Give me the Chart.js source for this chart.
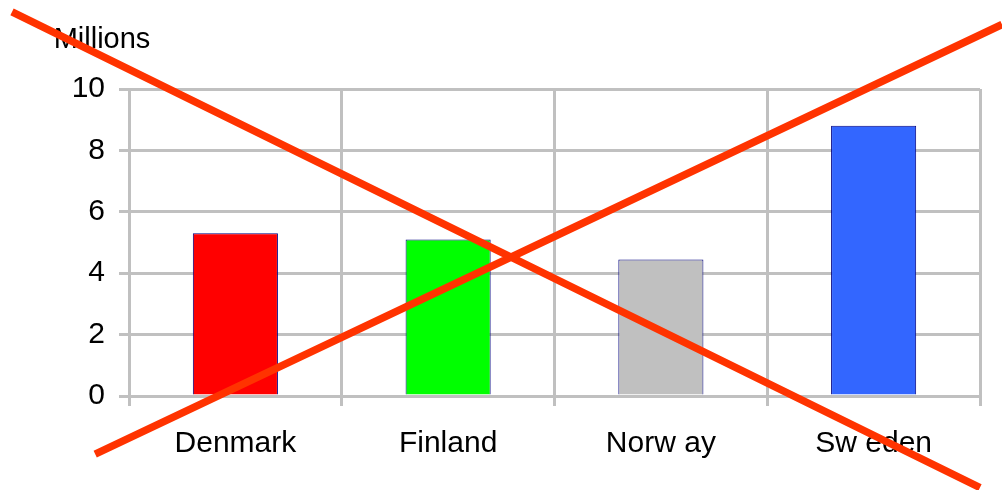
<!DOCTYPE html>
<html>
<head>
<meta charset="utf-8">
<script src="https://cdn.jsdelivr.net/npm/chart.js@4"></script>
<style>
  html, body { margin: 0; padding: 0; background: #fff; }
  #wrap { width: 1002px; height: 490px; position: relative; }
</style>
</head>
<body>
<div id="wrap"><canvas id="popChart"></canvas></div>
<script>
const countries = ['Denmark', 'Finland', 'Norw ay', 'Sw eden'];
const population = [5.3, 5.1, 4.45, 8.8];
const barColors = ['#ff0000', '#00ff00', '#c0c0c0', '#3366ff'];
const yTicks = [0, 2, 4, 6, 8, 10];
const unitLabel = 'Millions';

// "Millions" label over the y axis, and the big red cross
const extras = {
  id: 'extras',
  afterDraw(chart) {
    const c = chart.ctx;
    const area = chart.chartArea;
    c.save();
    c.fillStyle = '#000';
    c.font = '29px "Liberation Sans", Arial, sans-serif';
    c.textAlign = 'center';
    c.textBaseline = 'middle';
    c.fillText(unitLabel, area.left - 27, 40);

    const w = chart.width, h = chart.height;
    c.strokeStyle = '#ff3300';
    c.lineWidth = 7.5;
    c.lineCap = 'butt';
    c.beginPath();
    c.moveTo(w * 0.012, h * 0.024);
    c.lineTo(w * 0.978, h * 0.995);
    c.moveTo(w * 0.095, h * 0.927);
    c.lineTo(w * 1.0, h * 0.05);
    c.stroke();
    c.restore();
  }
};

const ctx = document.getElementById('popChart').getContext('2d');
new Chart(ctx, {
  type: 'bar',
  data: {
    labels: countries,
    datasets: [{
      data: population,
      backgroundColor: barColors,
      borderColor: '#000080',
      borderWidth: 1,
      barPercentage: 0.4,
      categoryPercentage: 1
    }]
  },
  options: {
    responsive: true,
    maintainAspectRatio: false,
    animation: false,
    layout: { padding: { top: 89, right: 22, left: 0, bottom: 0 } },
    plugins: {
      legend: { display: false },
      tooltip: { enabled: false }
    },
    scales: {
      x: {
        offset: true,
        grid: {
          offset: true,
          color: '#c0c0c0',
          lineWidth: 3,
          tickLength: 10,
          drawTicks: true
        },
        border: { color: '#c0c0c0', width: 3 },
        ticks: {
          color: '#000',
          padding: 20,
          font: { family: '"Liberation Sans", Arial, sans-serif', size: 30 }
        },
        afterFit(scale) { scale.height = 94; }
      },
      y: {
        min: 0,
        max: 10,
        afterBuildTicks(scale) { scale.ticks = yTicks.map(v => ({ value: v })); },
        grid: { color: '#c0c0c0', lineWidth: 3, tickLength: 10 },
        border: { color: '#c0c0c0', width: 3 },
        ticks: {
          color: '#000',
          padding: 14,
          font: { family: '"Liberation Sans", Arial, sans-serif', size: 30 }
        },
        afterFit(scale) { scale.width = 129; }
      }
    }
  },
  plugins: [extras]
});
</script>
</body>
</html>
